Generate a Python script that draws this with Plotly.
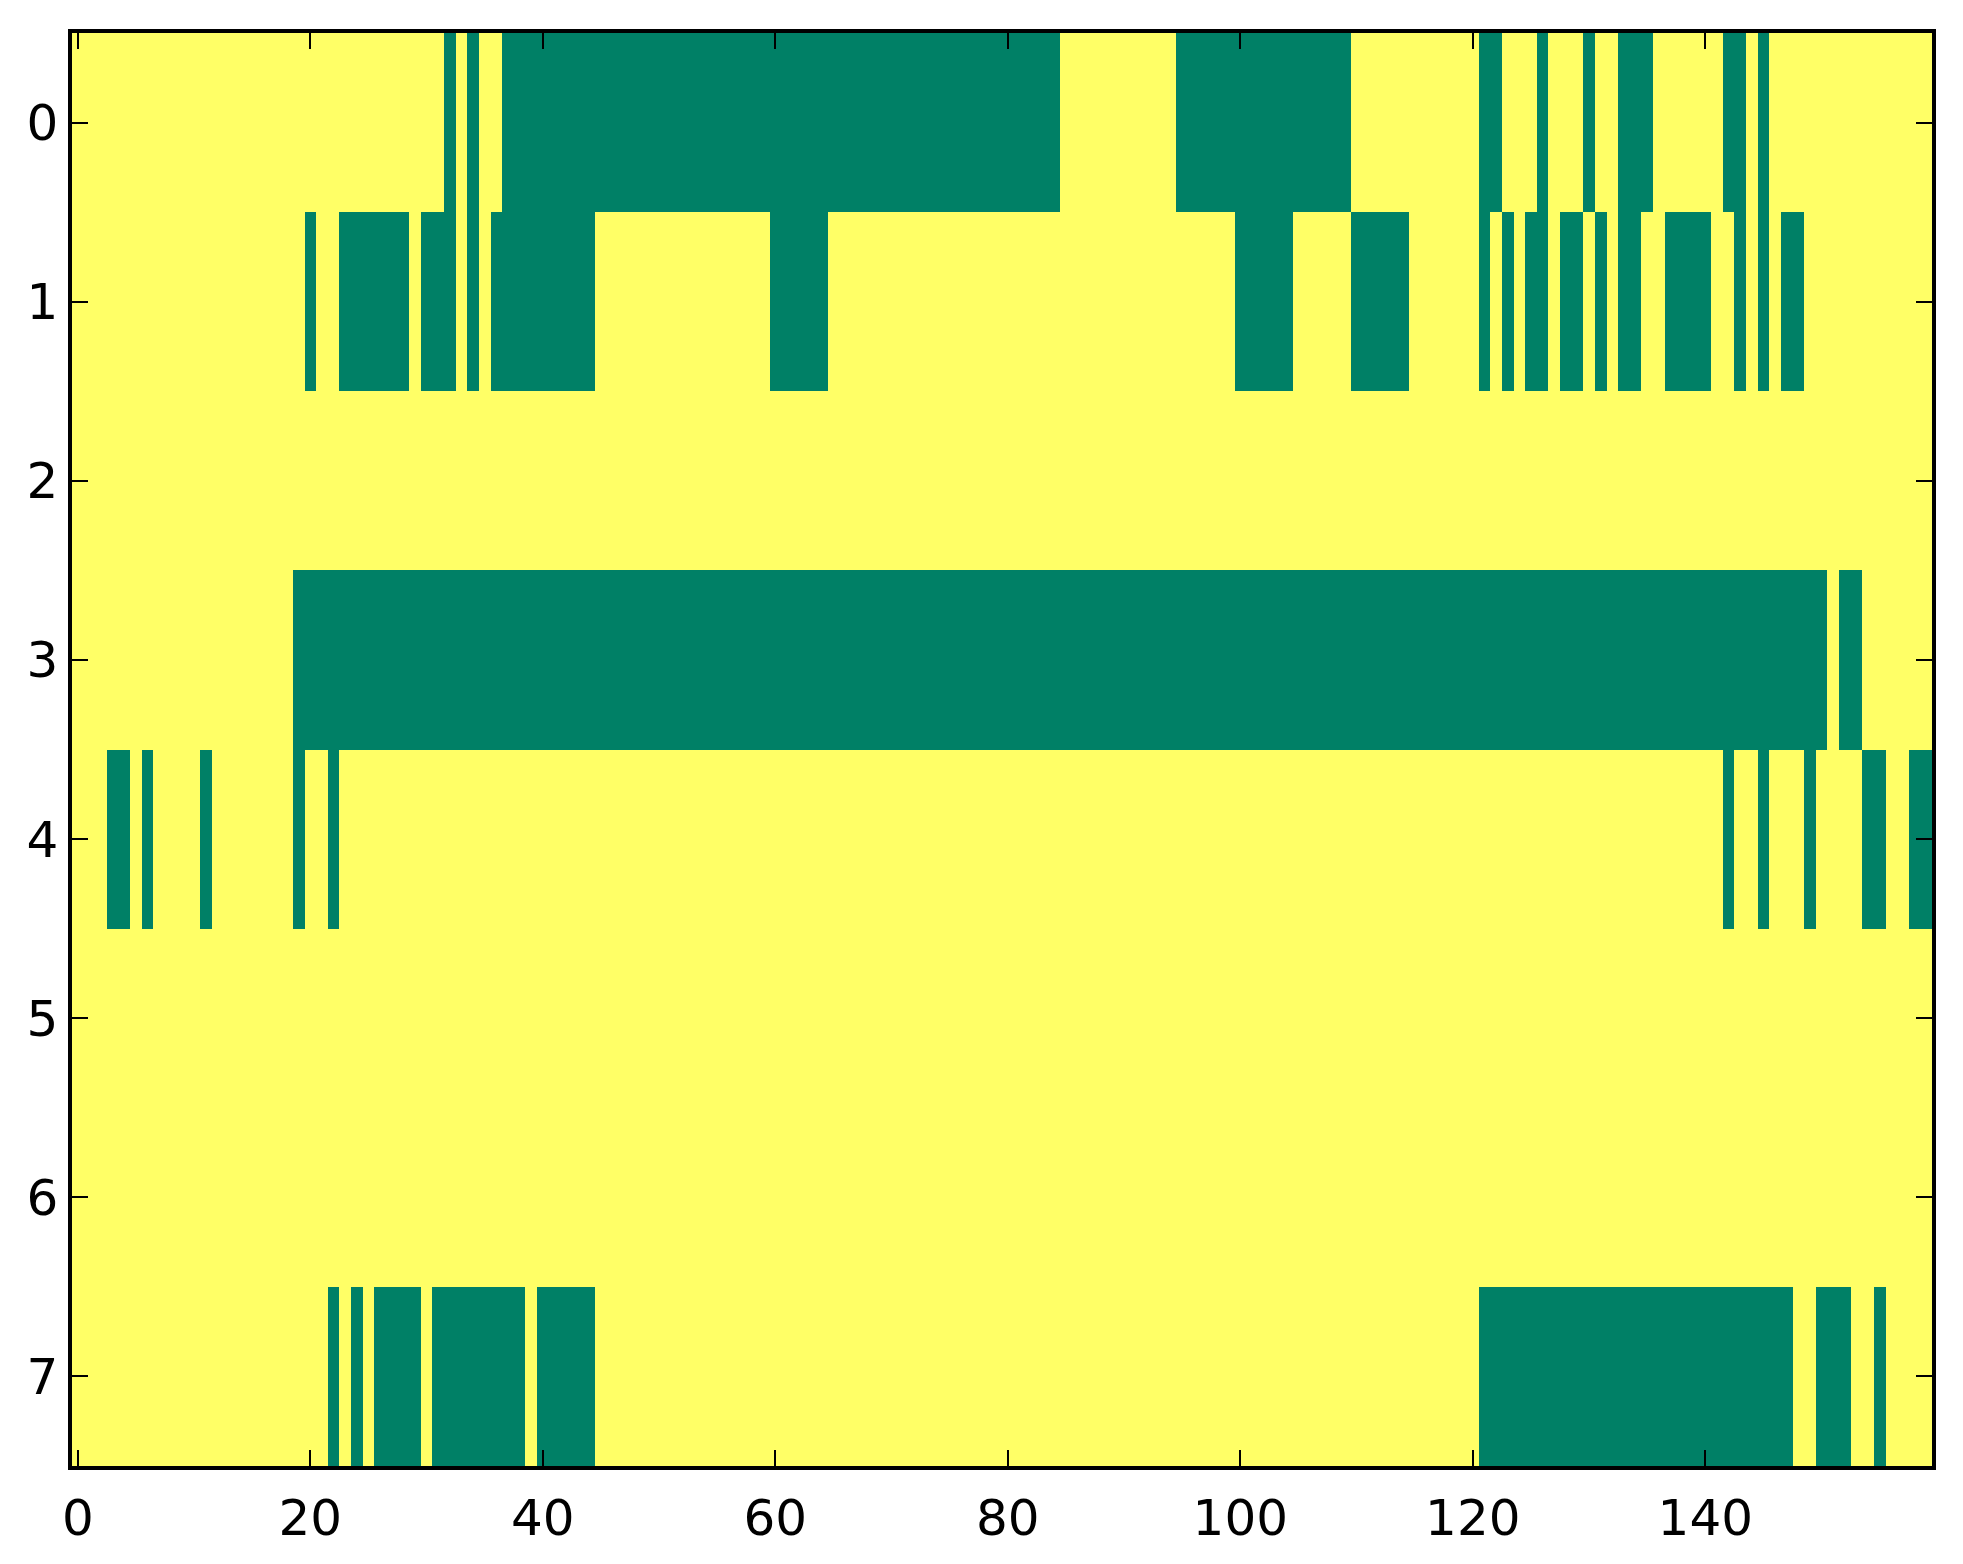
import plotly.graph_objects as go

# columns per row, 0 = green, 1 = yellow; runs of green cells (start, end inclusive)
n_cols = 160
row_ids = [0, 1, 2, 3, 4, 5, 6, 7]

green_row0 = [(32, 32), (34, 34), (37, 84), (95, 109), (121, 122), (126, 126),
              (130, 130), (133, 135), (142, 143), (145, 145)]
green_row1 = [(20, 20), (23, 28), (30, 32), (34, 34), (36, 44), (60, 64), (100, 104),
              (110, 114), (121, 121), (123, 123), (125, 126), (128, 129), (131, 131),
              (133, 134), (137, 140), (143, 143), (145, 145), (147, 148)]
green_row2 = []
green_row3 = [(19, 150), (152, 153)]
green_row4 = [(3, 4), (6, 6), (11, 11), (19, 19), (22, 22), (142, 142), (145, 145),
              (149, 149), (154, 155), (158, 159)]
green_row5 = []
green_row6 = []
green_row7 = [(22, 22), (24, 24), (26, 29), (31, 38), (40, 44), (121, 147),
              (150, 152), (155, 155)]

x_ticks = [0, 20, 40, 60, 80, 100, 120, 140]

runs = [green_row0, green_row1, green_row2, green_row3,
        green_row4, green_row5, green_row6, green_row7]

z = []
for r in runs:
    row = [1] * n_cols
    for a, b in r:
        for c in range(a, b + 1):
            row[c] = 0
    z.append(row)

fig = go.Figure(go.Heatmap(
    z=z,
    x=list(range(n_cols)),
    y=row_ids,
    colorscale=[[0, 'rgb(0,128,102)'], [1, 'rgb(255,255,102)']],
    zmin=0, zmax=1,
    showscale=False,
    hoverinfo='skip',
))

axis_style = dict(
    showline=True, linecolor='black', linewidth=3.5, mirror='ticks',
    ticks='inside', ticklen=16, tickwidth=2, tickcolor='black',
    showgrid=False, zeroline=False,
    tickfont=dict(family='DejaVu Sans', size=50, color='black'),
)

fig.update_xaxes(range=[-0.5, n_cols - 0.5], tickmode='array', tickvals=x_ticks,
                 ticklabelstandoff=5, **axis_style)
fig.update_yaxes(range=[7.5, -0.5], tickmode='array', tickvals=row_ids,
                 ticklabelstandoff=0, **axis_style)

# page body adds a small offset, margins compensate for it
fig.update_layout(
    width=1963, height=1564,
    margin=dict(l=64, r=39, t=25, b=106),
    paper_bgcolor='white', plot_bgcolor='white',
    font=dict(family='DejaVu Sans'),
)

fig.write_html("out.html")
